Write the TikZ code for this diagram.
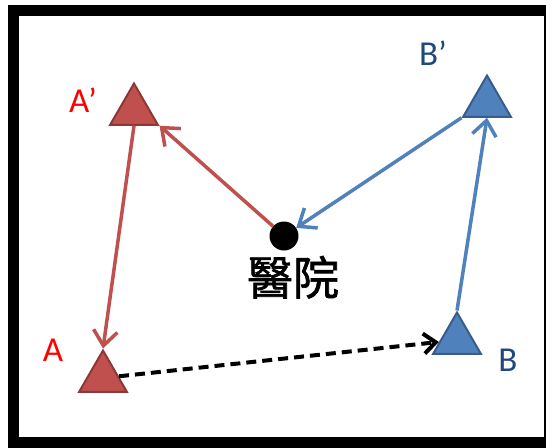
\documentclass[tikz,border=0pt]{standalone}
\usepackage{fontspec}
\setmainfont{Carlito}
\newfontfamily\cjk{Noto Sans CJK TC}[FakeBold=1.5]
\usepackage{tikz}
\usetikzlibrary{arrows.meta,positioning,shapes.geometric}
\definecolor{mpRed}{HTML}{C0504D}
\definecolor{mpRedDark}{HTML}{8C3836}
\definecolor{mpBlue}{HTML}{4F81BD}
\definecolor{mpBlueDark}{HTML}{385D8A}
\definecolor{mpLblRed}{HTML}{FF0000}
\definecolor{mpLblBlue}{HTML}{1F497D}
\tikzset{
  % Red site triangle
  rtri/.style={regular polygon,regular polygon sides=3,
    minimum size=55pt,inner sep=0pt,
    draw=mpRedDark,fill=mpRed,line width=2pt},
  % Blue site triangle
  btri/.style={regular polygon,regular polygon sides=3,
    minimum size=55pt,inner sep=0pt,
    draw=mpBlueDark,fill=mpBlue,line width=2pt},
  % Hospital point
  hosp/.style={circle,fill=black,minimum size=29pt,inner sep=0pt},
  % Labels
  rlbl/.style={font=\fontsize{35}{35}\selectfont,text=mpLblRed,inner sep=0pt},
  blbl/.style={font=\fontsize{35}{35}\selectfont,text=mpLblBlue,inner sep=0pt},
  % Arrows
  rarr/.style={-{Straight Barb[length=15pt,width=24pt]},line width=3.5pt,color=mpRed},
  barr/.style={-{Straight Barb[length=15pt,width=24pt]},line width=3.5pt,color=mpBlue},
  darr/.style={-{Straight Barb[length=12pt,width=20pt]},line width=4pt,
    dash pattern=on 10pt off 6pt,color=black},
}
\begin{document}
\begin{tikzpicture}[x=1pt,y=-1pt]
  \useasboundingbox (0,0) rectangle (546,447);
  \fill[white] (0,0) rectangle (546,447);
  \draw[line width=11pt] (13.5,10.5) rectangle (549,442.5);

  \node[rtri] (Ap) at (134,111) {};
  \node[btri] (Bp) at (487,103) {};
  \node[rtri] (A) at (103,378) {};
  \node[btri] (B) at (457,340) {};
  \node[hosp] (hosp) at (284,236) {};
  \node[font=\cjk\fontsize{46}{46}\selectfont,inner sep=0pt,
    below=5pt of hosp,xshift=9pt] (hname) {醫院};

  \node[rlbl] (lAp) at (83,100) {A’};
  \node[blbl] (lBp) at (433,53) {B’};
  \node[rlbl] (lA) at (53,350) {A};
  \node[blbl] (lB) at (508,360) {B};

  \draw[rarr] (Ap.side 2) -- (A.corner 1);
  \draw[rarr] (hosp) -- (Ap.corner 3);
  \draw[barr] (Bp.corner 2) -- (hosp);
  \draw[barr] (B.corner 1) -- (Bp.side 2);
  \draw[darr] (A) -- (B);
\end{tikzpicture}
\end{document}
